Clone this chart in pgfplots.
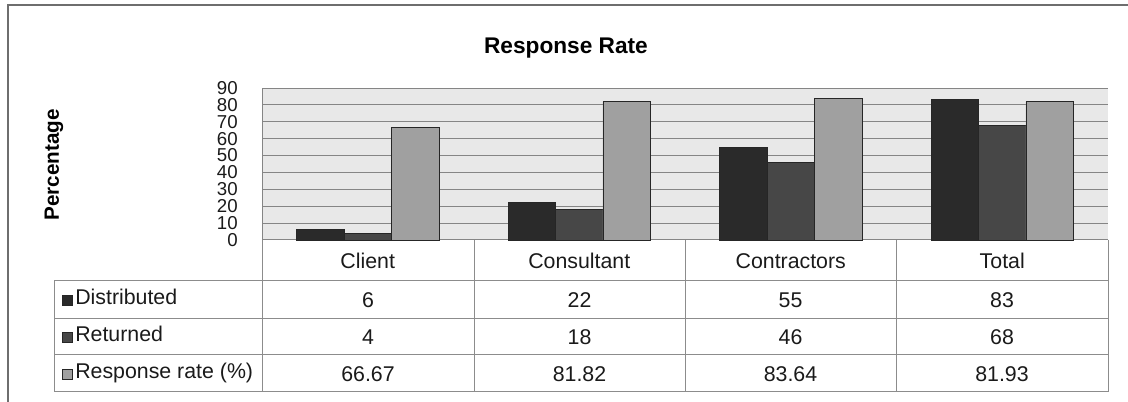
\documentclass[border=0pt]{standalone}
\usepackage{pgfplots}
\usepackage{pgfplotstable}
\pgfplotsset{compat=1.18}
\usepackage{fontspec}
\setmainfont{Liberation Sans}

\definecolor{cDist}{HTML}{2A2A2A}
\definecolor{cRet}{HTML}{474747}
\definecolor{cRate}{HTML}{A0A0A0}
\definecolor{plotbg}{HTML}{E8E8E8}
\definecolor{gridc}{HTML}{858585}
\definecolor{tablec}{HTML}{8C8C8C}
\definecolor{framec}{HTML}{6E6E6E}
\definecolor{txt}{HTML}{1A1A1A}

% survey figures by respondent group
\pgfplotstableread{
cat dist ret rate
0   6    4   66.67
1   22   18  81.82
2   55   46  83.64
3   83   68  81.93
}\surveydata

\newcommand\tabfont{\fontsize{16}{16}\selectfont}

\begin{document}
\begin{tikzpicture}
% page frame (1 unit = 1 px of the layout grid)
\path[use as bounding box] (0,0) rectangle (846pt,-301.5pt);

\begin{axis}[
  at={(196.5pt,-180pt)}, anchor=south west,
  scale only axis, width=634.5pt, height=114pt,
  xmin=-0.5, xmax=3.5, ymin=0, ymax=90,
  xtick={0,1,2,3},
  xticklabels={Client,Consultant,Contractors,Total},
  ytick={0,10,...,90},
  axis y line*=left, axis x line*=bottom,
  axis line style={-, draw=gridc, line width=0.75pt},
  axis background/.style={fill=plotbg},
  ymajorgrids, grid style={draw=gridc, line width=0.75pt},
  major tick length=0pt,
  /pgf/number format/assume math mode=true,
  yticklabel style={font=\fontsize{14}{14}\selectfont, text=txt, anchor=east, inner sep=0pt, xshift=-18pt},
  xticklabel style={font=\tabfont, text=txt, anchor=center, inner sep=0pt, yshift=-15.5pt},
  ybar=0pt, bar width=35.6pt,
  clip=false,
]
\addplot[fill=cDist, draw=black!85, line width=0.6pt] table[x=cat, y=dist] {\surveydata};
\addplot[fill=cRet,  draw=black!85, line width=0.6pt] table[x=cat, y=ret]  {\surveydata};
\addplot[fill=cRate, draw=black!85, line width=0.6pt] table[x=cat, y=rate] {\surveydata};
\end{axis}

\begin{scope}[x=0.75pt, y=-0.75pt]
  % outer chart frame
  \draw[framec, line width=1.1pt] (8,402) -- (8,5) -- (1128,5);

  % title and axis label
  \node[font=\fontsize{17}{17}\selectfont\bfseries, text=black] at (566,48) {Response Rate};
  \node[font=\fontsize{15.5}{15.5}\selectfont\bfseries, text=black, rotate=90] at (54,165) {Percentage};

  % data table grid
  \begin{scope}[draw=tablec, line width=0.75pt]
    \foreach \yy in {281,319,355,392} \draw (54,\yy) -- (1108,\yy);
    \draw (54,281) -- (54,392);
    \foreach \xx in {262,474,685,896,1108} \draw (\xx,240) -- (\xx,392);
  \end{scope}

  % row headers with series keys
  \foreach \yy/\col/\lab in {300/cDist/Distributed, 337/cRet/Returned, 374/cRate/Response rate (\%)} {
    \draw[fill=\col, draw=black!85, line width=0.5pt] (62,\yy-5) rectangle (72,\yy+5);
    \node[anchor=west, inner sep=0pt, font=\tabfont, text=txt] at (75,\yy) {\strut\lab};
  }

  % table values
  \foreach \xx/\a/\b/\c in {368/6/4/66.67, 579.5/22/18/81.82, 790.5/55/46/83.64, 1002/83/68/81.93} {
    \node[font=\tabfont, text=txt] at (\xx,300) {\a};
    \node[font=\tabfont, text=txt] at (\xx,337) {\b};
    \node[font=\tabfont, text=txt] at (\xx,374) {\c};
  }
\end{scope}
\end{tikzpicture}
\end{document}
